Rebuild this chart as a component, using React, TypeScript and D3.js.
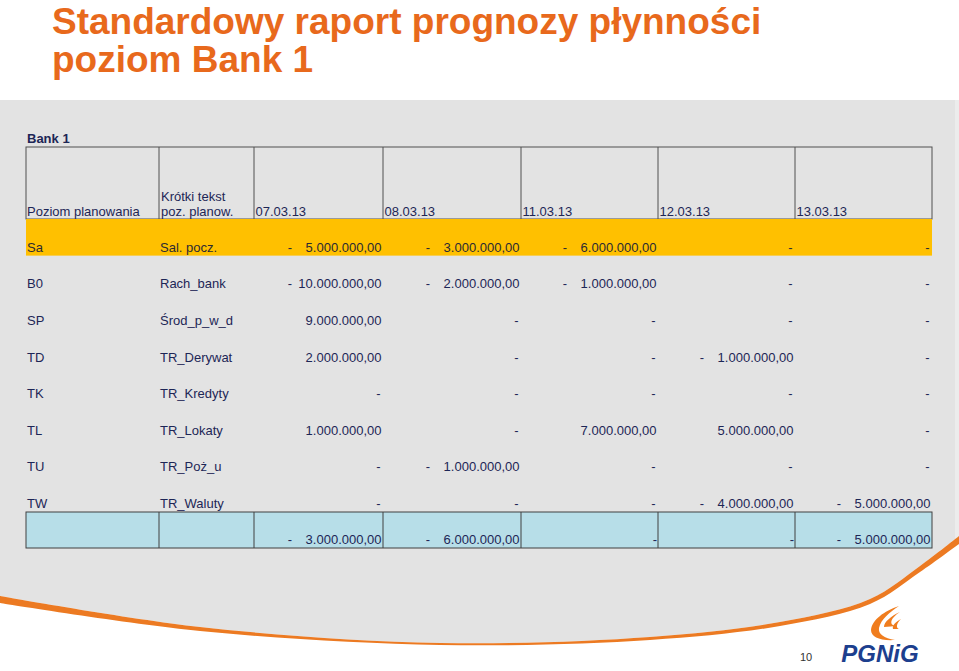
import { useMemo } from "react";
import * as d3 from "d3";

// values (PLN)
const dates = ["07.03.13", "08.03.13", "11.03.13", "12.03.13", "13.03.13"];
const codes = ["Sa", "B0", "SP", "TD", "TK", "TL", "TU", "TW"];
const names = [
  "Sal. pocz.",
  "Rach_bank",
  "Środ_p_w_d",
  "TR_Derywat",
  "TR_Kredyty",
  "TR_Lokaty",
  "TR_Poż_u",
  "TR_Waluty",
];
const sa = [-5000000, -3000000, -6000000, 0, 0];
const b0 = [-10000000, -2000000, -1000000, 0, 0];
const sp = [9000000, 0, 0, 0, 0];
const td = [2000000, 0, 0, -1000000, 0];
const tk = [0, 0, 0, 0, 0];
const tl = [1000000, 0, 7000000, 5000000, 0];
const tu = [0, -1000000, 0, 0, 0];
const tw = [0, 0, 0, -4000000, -5000000];
const totals = [-3000000, -6000000, 0, 0, -5000000];

const W = 959;
const H = 671;
const FONT = "'Liberation Sans', Arial, sans-serif";
const NAVY = "#1d2656";
const ORANGE = "#e8691c";

const plLocale = d3.formatLocale({
  decimal: ",",
  thousands: ".",
  grouping: [3],
  currency: ["", ""],
});
const fmt = plLocale.format(",.2f");

// column edges of the sheet
const colEdges = [26, 159, 254, 383, 521, 658, 795, 932];

const ValueCell = ({ v, right, y, total = false }) => {
  if (v === 0) {
    return (
      <text x={right - (total ? 1 : 2.5)} y={y} textAnchor="end">
        -
      </text>
    );
  }
  return (
    <g>
      {v < 0 && (
        <text x={right - 93} y={y} textAnchor="middle">
          -
        </text>
      )}
      <text x={right - 1.5} y={y} textAnchor="end">
        {fmt(Math.abs(v))}
      </text>
    </g>
  );
};

const App = () => {
  const rows = [sa, b0, sp, td, tk, tl, tu, tw];

  const yRow = useMemo(
    () => d3.scaleBand().domain(codes).range([219, 512]).padding(0),
    []
  );
  const bw = yRow.bandwidth();
  const headerTop = 147;
  const headerBottom = 219;
  const totalTop = 512;
  const totalBottom = 548;

  // gray slide panel with the orange swoosh at the bottom
  const curve = d3.line().curve(d3.curveCatmullRom.alpha(0.5));
  const upper = [
    [0, 596],
    [200, 627],
    [440, 643],
    [650, 637],
    [780, 622],
    [870, 599],
    [920, 566],
    [959, 536],
  ];
  const lower = [
    [0, 603],
    [200, 631],
    [440, 645],
    [650, 640],
    [780, 626],
    [870, 604],
    [920, 572],
    [959, 544],
  ];
  const upperPath = curve(upper);
  const panelPath =
    `M0,100 L955,100 L955,${upper[upper.length - 1][1]} ` +
    curve([...upper].reverse()).slice(1) +
    " Z";
  const swoosh =
    upperPath + " L" + curve([...lower].reverse()).slice(1) + " Z";

  return (
    <svg
      width={W}
      height={H}
      style={{ position: "absolute", left: 0, top: 0, background: "#fff" }}
      fontFamily={FONT}
    >
      <path d={panelPath} fill="#e3e3e3" />
      <rect x={955} y={100} width={4} height={440} fill="#ececec" />
      <path d={swoosh} fill="#ec7a22" />

      {/* title */}
      <g fill={ORANGE} fontWeight="bold" fontSize={37}>
        <text x={52} y={34}>
          Standardowy raport prognozy płynności
        </text>
        <text x={52} y={72}>
          poziom Bank 1
        </text>
      </g>

      <g fontSize={13} fill={NAVY}>
        <text x={27} y={143} fontWeight="bold">
          Bank 1
        </text>

        {/* header */}
        <rect
          x={colEdges[0]}
          y={headerTop}
          width={colEdges[colEdges.length - 1] - colEdges[0]}
          height={headerBottom - headerTop}
          fill="#e3e3e3"
          stroke="#505050"
          strokeWidth={1}
        />
        {colEdges.slice(1, -1).map((x) => (
          <line
            key={"h" + x}
            x1={x}
            x2={x}
            y1={headerTop}
            y2={headerBottom}
            stroke="#505050"
          />
        ))}
        <text x={27} y={216}>
          Poziom planowania
        </text>
        <text x={161} y={201}>
          Krótki tekst
        </text>
        <text x={161} y={216}>
          poz. planow.
        </text>
        {dates.map((d, i) => (
          <text key={d} x={colEdges[i + 2] + 1.5} y={216}>
            {d}
          </text>
        ))}

        {/* orange opening balance row */}
        <rect
          x={colEdges[0]}
          y={yRow("Sa")}
          width={colEdges[colEdges.length - 1] - colEdges[0]}
          height={bw}
          fill="#ffc000"
        />

        {/* body rows */}
        {codes.map((c, r) => {
          const y = yRow(c) + bw - 4;
          const color = r === 0 ? "#2b2a33" : NAVY;
          return (
            <g key={c} fill={color}>
              <text x={27} y={y}>
                {c}
              </text>
              <text x={160} y={y}>
                {names[r]}
              </text>
              {rows[r].map((v, i) => (
                <ValueCell key={i} v={v} right={colEdges[i + 3]} y={y} />
              ))}
            </g>
          );
        })}

        {/* totals row */}
        <rect
          x={colEdges[0]}
          y={totalTop}
          width={colEdges[colEdges.length - 1] - colEdges[0]}
          height={totalBottom - totalTop}
          fill="#b7dee8"
          stroke="#404040"
        />
        {colEdges.slice(1, -1).map((x) => (
          <line
            key={"t" + x}
            x1={x}
            x2={x}
            y1={totalTop}
            y2={totalBottom}
            stroke="#404040"
          />
        ))}
        {totals.map((v, i) => (
          <ValueCell
            key={i}
            v={v}
            right={colEdges[i + 3]}
            y={totalBottom - 4}
            total
          />
        ))}
      </g>

      {/* page number and logo */}
      <text x={806} y={661} fontSize={11} fill="#333" textAnchor="middle">
        10
      </text>
      <g fill="#f07d1e">
        <path d="M899,606 C884,611 872,620 871,630 C871,637 880,641 895,640 C884,638 878,634 879,628 C881,619 890,612 899,606 Z" />
        <path d="M900,612 C891,616 884,622 884,627 L897,626 C889,626 889,619 900,612 Z" />
        <path d="M901,619 C895,622 892,626 893,629 L899,629 C896,628 896,624 901,619 Z" />
      </g>
      <text
        x={880}
        y={662}
        fontSize={24}
        fontWeight="bold"
        fontStyle="italic"
        fill="#1d3f8e"
        textAnchor="middle"
      >
        PGNiG
      </text>
    </svg>
  );
};

export default App;
